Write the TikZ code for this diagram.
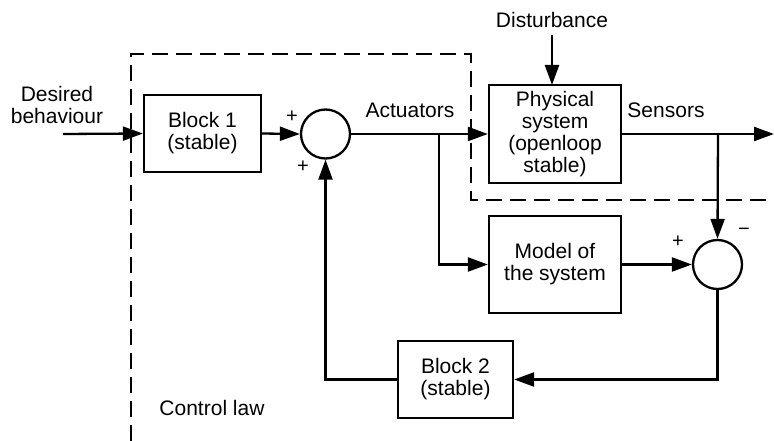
\documentclass[tikz,border=0pt]{standalone}
\usepackage{fontspec}
\setmainfont{Liberation Sans}
\usetikzlibrary{arrows.meta}
\begin{document}
\begin{tikzpicture}[x=1pt,y=-1pt,
  line width=2.3pt,
  every node/.style={font=\fontsize{21}{22}\selectfont, align=center, inner sep=0pt},
  blk/.style={draw, rectangle},
  sumc/.style={draw, circle, minimum size=49pt},
  sig/.style={font=\fontsize{20}{20}\selectfont},
  arr/.style={-{Triangle[length=20pt,width=14pt]}},
  bound/.style={dash pattern=on 16pt off 8pt, line width=1.8pt}]
\useasboundingbox (0,0) rectangle (774,441);
% dashed boundary
\draw[bound] (131,441) -- (131,54) -- (471,54) -- (471,200) -- (774,200);
% blocks
\node[blk, minimum width=117pt, minimum height=77pt] (b1) at (202.5,133.5) {Block 1\\(stable)};
\node[sumc] (s1) at (325.5,134) {};
\node[blk, minimum width=132pt, minimum height=98pt] (ps) at (555,134) {Physical\\system\\(openloop\\stable)};
\node[blk, minimum width=132pt, minimum height=97pt] (ms) at (555,264.5) {Model of\\the system};
\node[sumc] (s2) at (717.5,264.5) {};
\node[blk, minimum width=115pt, minimum height=77pt] (b2) at (455.5,379.5) {Block 2\\(stable)};
% labels
\node (des) at (57,104.5) {Desired\\behaviour};
\node (act) at (410,110) {Actuators};
\node (sen) at (666,110) {Sensors};
\node (dist) at (552,20) {Disturbance};
\node (cl) at (212,408) {Control law};
\node[sig] (p1) at (292,117) {+};
\node[sig] (p2) at (303,167) {+};
\node[sig] (p3) at (678,242) {+};
\node[sig] (m1) at (744,232) {−};
% coordinates
\coordinate (in) at (63,134);
\coordinate (out) at (774,134);
\coordinate (br1) at (439,134);
\coordinate (br2) at (718,134);
% connectors
\draw[arr] (dist.south) ++(0,6) -- (552,85);
\draw[arr] (in) -- (b1.west);
\draw[arr] (b1.east) -- (s1.west);
\draw[arr] (s1.east) -- (ps.west);
\draw[arr] (br1) |- (ms.west);
\draw[arr] (ps.east) -- (out);
\draw[arr] (br2) -- (s2.north);
\draw[arr] (ms.east) -- (s2.west);
\draw[arr] (s2.south) |- (b2.east);
\draw[arr] (b2.west) -| (s1.south);
\end{tikzpicture}
\end{document}
